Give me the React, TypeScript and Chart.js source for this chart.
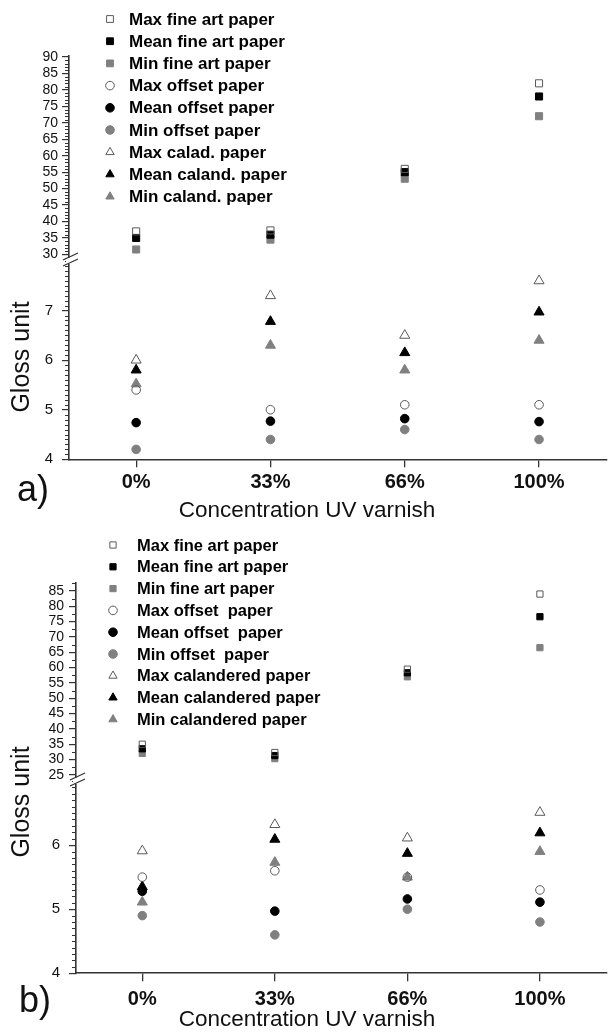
import React, { useEffect, useRef } from 'react';
import { Chart, registerables } from 'chart.js';

Chart.register(...registerables);

const FONT = '"Liberation Sans", Arial, Helvetica, sans-serif';
Chart.defaults.font.family = FONT;

// ---------- Data ----------
const categories = ['0%', '33%', '66%', '100%'];

// Panel a
const maxFineA = [37, 37.3, 56, 82];
const meanFineA = [35, 36, 55, 78];
const minFineA = [31.5, 34.5, 53, 72];
const maxOffsetA = [5.4, 5.0, 5.1, 5.1];
const meanOffsetA = [4.74, 4.77, 4.82, 4.76];
const minOffsetA = [4.2, 4.4, 4.6, 4.4];
const maxCalA = [6.0, 7.3, 6.5, 7.6];
const meanCalA = [5.8, 6.78, 6.15, 6.97];
const minCalA = [5.52, 6.3, 5.8, 6.4];
const labelsA = [
  'Max fine art paper', 'Mean fine art paper', 'Min fine art paper',
  'Max offset paper', 'Mean offset paper', 'Min offset paper',
  'Max calad. paper', 'Mean caland. paper', 'Min caland. paper',
];
const upperTicksA = [30, 35, 40, 45, 50, 55, 60, 65, 70, 75, 80, 85, 90];
const lowerTicksA = [4, 5, 6, 7];

// Panel b
const maxFineB = [35, 32.3, 59.5, 84];
const meanFineB = [33.5, 31.3, 58.3, 76.6];
const minFineB = [32, 30.3, 57, 66.5];
const maxOffsetB = [5.5, 5.6, 5.5, 5.3];
const meanOffsetB = [5.28, 4.97, 5.16, 5.11];
const minOffsetB = [4.9, 4.6, 5.0, 4.8];
const maxCalB = [5.91, 6.32, 6.11, 6.51];
const meanCalB = [5.35, 6.09, 5.87, 6.19];
const minCalB = [5.11, 5.73, 5.5, 5.9];
const labelsB = [
  'Max fine art paper', 'Mean fine art paper', 'Min fine art paper',
  'Max offset  paper', 'Mean offset  paper', 'Min offset  paper',
  'Max calandered paper', 'Mean calandered paper', 'Min calandered paper',
];
const upperTicksB = [25, 30, 35, 40, 45, 50, 55, 60, 65, 70, 75, 80, 85];
const lowerTicksB = [4, 5, 6];

// ---------- Styles ----------
const AXIS = '#333333';
const GRAY = '#808080';
const OPEN_BORDER = '#5a5a5a';

function markerStyle(kind: number) {
  // 0 = max (open), 1 = mean (black), 2 = min (gray)
  if (kind === 0) return { bg: 'rgba(0,0,0,0)', border: OPEN_BORDER };
  if (kind === 1) return { bg: '#000000', border: '#000000' };
  return { bg: GRAY, border: GRAY };
}

function drawMarker(ctx: CanvasRenderingContext2D, style: string, r: number, x: number, y: number, bg: string, border: string) {
  ctx.save();
  ctx.beginPath();
  if (style === 'rect') {
    const s = Math.SQRT1_2 * r;
    ctx.rect(x - s, y - s, 2 * s, 2 * s);
  } else if (style === 'circle') {
    ctx.arc(x, y, r, 0, Math.PI * 2);
  } else {
    for (let i = 0; i < 3; i++) {
      const a = (i * 2 * Math.PI) / 3;
      const px = x + Math.sin(a) * r;
      const py = y - Math.cos(a) * r;
      if (i === 0) ctx.moveTo(px, py); else ctx.lineTo(px, py);
    }
    ctx.closePath();
  }
  ctx.fillStyle = bg;
  ctx.fill();
  ctx.lineWidth = 1;
  ctx.strokeStyle = border;
  ctx.stroke();
  ctx.restore();
}

const decorPlugin = {
  id: 'decor',
  afterDraw(chart: any, _args: any, opts: any) {
    const ctx: CanvasRenderingContext2D = chart.ctx;
    ctx.save();
    // minor ticks
    for (const m of opts.minor) {
      const s = chart.scales[m.id];
      const step = m.step;
      ctx.strokeStyle = AXIS;
      ctx.lineWidth = 1;
      const k0 = Math.ceil(s.min / step - 1e-9);
      const k1 = Math.floor(s.max / step + 1e-9);
      for (let k = k0; k <= k1; k++) {
        const v = k * step;
        if (m.major.some((t: number) => Math.abs(t - v) < 1e-6)) continue;
        const py = Math.round(s.getPixelForValue(v)) + 0.5;
        ctx.beginPath();
        ctx.moveTo(s.right - 4, py);
        ctx.lineTo(s.right, py);
        ctx.stroke();
      }
    }
    // axis break
    const up = chart.scales.yUp;
    const ax = up.right;
    const jy = up.bottom;
    ctx.fillStyle = '#ffffff';
    ctx.fillRect(ax - 3, jy - 3, 7, 6);
    ctx.strokeStyle = AXIS;
    ctx.lineWidth = 1.3;
    ctx.beginPath();
    ctx.moveTo(ax - 6, jy - 1);
    ctx.lineTo(ax + 9, jy - 8);
    ctx.moveTo(ax - 6, jy + 5);
    ctx.lineTo(ax + 9, jy - 2);
    ctx.stroke();
    // legend
    const lg = opts.legend;
    ctx.font = `bold ${lg.size}px ${FONT}`;
    ctx.textBaseline = 'middle';
    ctx.textAlign = 'left';
    chart.data.datasets.forEach((ds: any, i: number) => {
      const y = lg.y0 + i * lg.dy;
      drawMarker(ctx, ds.pointStyle, Math.min(ds.pointRadius, 4.8), lg.mx, y, ds.pointBackgroundColor, ds.pointBorderColor);
      ctx.fillStyle = '#000000';
      ctx.fillText(ds.label, lg.tx, y + 1);
    });
    // texts
    for (const t of opts.texts) {
      ctx.save();
      ctx.font = `${t.weight || 'normal'} ${t.size}px ${FONT}`;
      ctx.fillStyle = '#111111';
      ctx.textAlign = 'center';
      ctx.textBaseline = 'middle';
      ctx.translate(t.x, t.y);
      if (t.rot) ctx.rotate(t.rot);
      ctx.fillText(t.text, 0, 0);
      ctx.restore();
    }
    ctx.restore();
  },
};

type PanelDef = {
  series: number[][];
  labels: string[];
  upperTicks: number[];
  lowerTicks: number[];
  upMin: number; upMax: number;
  lowMin: number; lowMax: number;
  upWeight: number; lowWeight: number;
  padTop: number; padRight: number;
  yWidth: number; xHeight: number;
  rectR: number;
  upMinorStep: number; lowMinorStep: number;
  upPad: number; lowPad: number;
  xPad: number;
  legend: any;
  texts: any[];
};

function buildConfig(p: PanelDef): any {
  const styles = ['rect', 'rect', 'rect', 'circle', 'circle', 'circle', 'triangle', 'triangle', 'triangle'];
  const datasets = p.series.map((vals, i) => {
    const st = markerStyle(i % 3);
    const style = styles[i];
    const r = style === 'rect' ? p.rectR : style === 'circle' ? 4.3 : 5.8;
    return {
      label: p.labels[i],
      data: vals,
      yAxisID: i < 3 ? 'yUp' : 'yLow',
      showLine: false,
      pointStyle: style,
      pointRadius: r,
      pointBackgroundColor: st.bg,
      pointBorderColor: st.border,
      pointBorderWidth: 1,
      borderColor: st.border,
      backgroundColor: st.bg,
    };
  });
  const yCommon = {
    type: 'linear',
    position: 'left',
    stack: 'panel',
    grid: { display: true, drawOnChartArea: false, drawTicks: true, tickLength: 7, color: AXIS, lineWidth: 1.2 },
    border: { display: true, color: AXIS, width: 1.6 },
  };
  return {
    type: 'line',
    data: { labels: categories, datasets },
    options: {
      responsive: false,
      animation: false,
      layout: { padding: { top: p.padTop, right: p.padRight, left: 0, bottom: 0 } },
      plugins: {
        legend: { display: false },
        tooltip: { enabled: false },
        decor: {
          minor: [
            { id: 'yUp', step: p.upMinorStep, major: p.upperTicks },
            { id: 'yLow', step: p.lowMinorStep, major: p.lowerTicks },
          ],
          legend: p.legend,
          texts: p.texts,
        },
      },
      scales: {
        x: {
          type: 'category',
          offset: true,
          grid: { display: true, drawOnChartArea: false, drawTicks: true, tickLength: 8, color: AXIS, lineWidth: 1.3 },
          border: { display: true, color: AXIS, width: 1.6 },
          ticks: { font: { size: 20, weight: 'bold' }, color: '#111111', padding: p.xPad, maxRotation: 0 },
          afterFit: (s: any) => { s.height = p.xHeight; },
        },
        yLow: {
          ...yCommon,
          stackWeight: p.lowWeight,
          min: p.lowMin,
          max: p.lowMax,
          afterBuildTicks: (s: any) => { s.ticks = p.lowerTicks.map((v) => ({ value: v })); },
          afterFit: (s: any) => { s.width = p.yWidth; },
          ticks: { autoSkip: false, font: { size: 15 }, color: '#111111', padding: p.lowPad },
        },
        yUp: {
          ...yCommon,
          stackWeight: p.upWeight,
          min: p.upMin,
          max: p.upMax,
          afterBuildTicks: (s: any) => { s.ticks = p.upperTicks.map((v) => ({ value: v })); },
          afterFit: (s: any) => { s.width = p.yWidth; },
          ticks: { autoSkip: false, font: { size: 14 }, color: '#111111', padding: p.upPad },
        },
      },
    },
    plugins: [decorPlugin],
  };
}

const panelA: PanelDef = {
  series: [maxFineA, meanFineA, minFineA, maxOffsetA, meanOffsetA, minOffsetA, maxCalA, meanCalA, minCalA],
  labels: labelsA,
  upperTicks: upperTicksA,
  lowerTicks: lowerTicksA,
  upMin: 28, upMax: 90.3,
  lowMin: 4, lowMax: 8,
  upWeight: 205, lowWeight: 198.3,
  padTop: 56, padRight: 0,
  yWidth: 69, xHeight: 65.7,
  rectR: 5,
  upMinorStep: 1, lowMinorStep: 0.1,
  upPad: 4, lowPad: 9,
  xPad: 3,
  legend: { mx: 110, tx: 129, y0: 19, dy: 22.2, size: 17 },
  texts: [
    { text: 'Gloss unit', x: 22, y: 357, size: 25, rot: -Math.PI / 2 },
    { text: 'Concentration UV varnish', x: 307, y: 511, size: 22.5 },
    { text: 'a)', x: 33, y: 491, size: 36 },
  ],
};

const panelB: PanelDef = {
  series: [maxFineB, meanFineB, minFineB, maxOffsetB, meanOffsetB, minOffsetB, maxCalB, meanCalB, minCalB],
  labels: labelsB,
  upperTicks: upperTicksB,
  lowerTicks: lowerTicksB,
  upMin: 23, upMax: 87.8,
  lowMin: 4, lowMax: 7,
  upWeight: 198.6, lowWeight: 192.3,
  padTop: 57.4, padRight: 5,
  yWidth: 76, xHeight: 58.7,
  rectR: 4.4,
  upMinorStep: 2.5, lowMinorStep: 0.1,
  upPad: 5, lowPad: 9,
  xPad: 6,
  legend: { mx: 113, tx: 137, y0: 20, dy: 21.8, size: 16.5 },
  texts: [
    { text: 'Gloss unit', x: 22, y: 277, size: 25, rot: -Math.PI / 2 },
    { text: 'Concentration UV varnish', x: 307, y: 495, size: 22.5 },
    { text: 'b)', x: 35, y: 477, size: 36 },
  ],
};

function Panel({ def, top, height }: { def: PanelDef; top: number; height: number }) {
  const ref = useRef<HTMLCanvasElement>(null);
  useEffect(() => {
    if (!ref.current) return;
    const chart = new Chart(ref.current, buildConfig(def));
    return () => chart.destroy();
  }, [def]);
  return (
    <div style={{ position: 'absolute', left: 0, top, width: 613, height }}>
      <canvas ref={ref} width={613} height={height} style={{ display: 'block', width: 613, height }} />
    </div>
  );
}

export default function App() {
  return (
    <div style={{ position: 'absolute', left: 0, top: 0, width: 613, height: 1032, background: '#ffffff' }}>
      <Panel def={panelA} top={0} height={525} />
      <Panel def={panelB} top={525} height={507} />
    </div>
  );
}
